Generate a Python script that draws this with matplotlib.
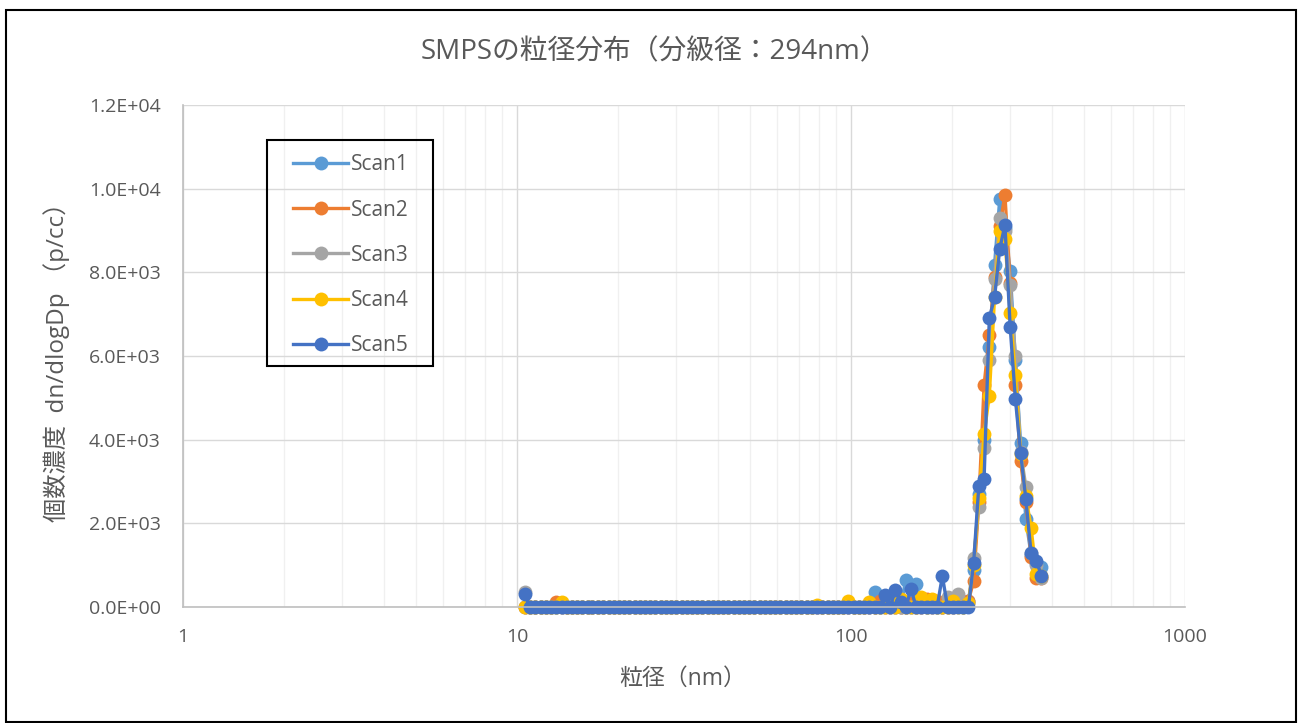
import numpy as np
import matplotlib
matplotlib.use("Agg")
import matplotlib.pyplot as plt
from matplotlib.patches import Rectangle
from matplotlib.ticker import FixedLocator, LogLocator, NullFormatter, FuncFormatter

plt.rcParams['font.family'] = ['Open Sans', 'Noto Sans CJK JP', 'DejaVu Sans']

# SMPS channel midpoints (nm), 64 ch/decade
diam = [10.6, 10.9, 11.3, 11.8, 12.2, 12.6, 13.1, 13.6, 14.1, 14.6,
        15.1, 15.7, 16.3, 16.8, 17.5, 18.1, 18.8, 19.5, 20.2, 20.9,
        21.7, 22.5, 23.3, 24.1, 25.0, 25.9, 26.9, 27.9, 28.9, 30.0,
        31.1, 32.2, 33.4, 34.6, 35.9, 37.2, 38.5, 40.0, 41.4, 42.9,
        44.5, 46.1, 47.8, 49.6, 51.4, 53.3, 55.2, 57.3, 59.4, 61.5,
        63.8, 66.1, 68.5, 71.0, 73.7, 76.4, 79.1, 82.0, 85.1, 88.2,
        91.4, 94.7, 98.2, 101.8, 105.5, 109.4, 113.4, 117.6, 121.9, 126.3,
        131.0, 135.8, 140.7, 145.9, 151.2, 156.8, 162.5, 168.5, 174.7, 181.1,
        187.7, 194.6, 201.7, 209.1, 216.7, 224.7, 232.9, 241.4, 250.3, 259.5,
        269.0, 278.8, 289.0, 299.6, 310.6, 322.0, 333.8, 346.0, 358.7, 371.8]

scan1 = [0, 0, 0, 0, 0, 0, 0, 0, 0, 0,
         0, 0, 0, 0, 0, 0, 0, 0, 0, 0,
         0, 0, 0, 0, 0, 0, 0, 0, 0, 0,
         0, 0, 0, 0, 0, 0, 0, 0, 0, 0,
         0, 0, 0, 0, 0, 0, 0, 0, 0, 0,
         0, 0, 0, 0, 0, 0, 0, 0, 0, 0,
         0, 0, 0, 0, 0, 0, 0, 360, 0, 200,
         0, 300, 0, 650, 0, 560, 0, 0, 100, 0,
         0, 50, 0, 100, 0, 150, 880, 2700, 4000, 6220,
         8180, 9750, 9050, 8040, 5900, 3910, 2100, 1250, 1050, 950]

scan2 = [0, 0, 0, 0, 0, 0, 130, 0, 0, 0,
         0, 0, 0, 0, 0, 0, 0, 0, 0, 0,
         0, 0, 0, 0, 0, 0, 0, 0, 0, 0,
         0, 0, 0, 0, 0, 0, 0, 0, 0, 0,
         0, 0, 0, 0, 0, 0, 0, 0, 0, 0,
         0, 0, 0, 0, 0, 0, 0, 0, 0, 0,
         0, 0, 0, 0, 0, 0, 0, 0, 150, 0,
         0, 0, 0, 0, 100, 0, 0, 200, 0, 150,
         0, 0, 0, 250, 100, 150, 620, 2500, 5300, 6500,
         7900, 9100, 9850, 7750, 5300, 3480, 2500, 1200, 700, 700]

scan3 = [350, 0, 0, 0, 0, 0, 0, 0, 0, 0,
         0, 0, 0, 0, 0, 0, 0, 0, 0, 0,
         0, 0, 0, 0, 0, 0, 0, 0, 0, 0,
         0, 0, 0, 0, 0, 0, 0, 0, 0, 0,
         0, 0, 0, 0, 0, 0, 0, 0, 0, 0,
         0, 0, 0, 0, 0, 0, 0, 0, 0, 0,
         0, 0, 0, 0, 0, 0, 0, 0, 0, 0,
         150, 0, 0, 0, 0, 0, 200, 0, 0, 0,
         0, 250, 0, 300, 0, 100, 1170, 2400, 3800, 5900,
         7830, 9300, 9000, 7700, 6000, 3700, 2880, 1300, 1000, 700]

scan4 = [0, 0, 0, 0, 0, 0, 0, 130, 0, 0,
         0, 0, 0, 0, 0, 0, 0, 0, 0, 0,
         0, 0, 0, 0, 0, 0, 0, 0, 0, 0,
         0, 0, 0, 0, 0, 0, 0, 0, 0, 0,
         0, 0, 0, 0, 0, 0, 0, 0, 0, 0,
         0, 0, 0, 0, 0, 0, 50, 0, 0, 0,
         0, 0, 140, 0, 0, 0, 120, 0, 0, 0,
         250, 0, 200, 0, 0, 0, 250, 0, 200, 0,
         0, 0, 150, 0, 0, 100, 1000, 2600, 4130, 5050,
         7400, 9000, 8800, 7030, 5550, 3650, 2650, 1900, 800, 750]

scan5 = [300, 0, 0, 0, 0, 0, 0, 0, 0, 0,
         0, 0, 0, 0, 0, 0, 0, 0, 0, 0,
         0, 0, 0, 0, 0, 0, 0, 0, 0, 0,
         0, 0, 0, 0, 0, 0, 0, 0, 0, 0,
         0, 0, 0, 0, 0, 0, 0, 0, 0, 0,
         0, 0, 0, 0, 0, 0, 0, 0, 0, 0,
         0, 0, 0, 0, 0, 0, 0, 0, 0, 290,
         0, 400, 120, 0, 420, 0, 0, 0, 0, 0,
         740, 0, 0, 0, 0, 0, 1050, 2900, 3050, 6900,
         7400, 8560, 9130, 6700, 4970, 3680, 2580, 1290, 1100, 750]

nombres = ["Scan1", "Scan2", "Scan3", "Scan4", "Scan5"]
colores = ["#5B9BD5", "#ED7D31", "#A5A5A5", "#FFC000", "#4472C4"]
series = [scan1, scan2, scan3, scan4, scan5]


def fmt_e(v, pos):
    if v <= 0:
        return "0.0E+00"
    e = int(np.floor(np.log10(v)))
    return "%.1fE+%02d" % (v / 10 ** e, e)


W, H = 1301, 723
fig = plt.figure(figsize=(W / 100, H / 100), dpi=100)
ax = fig.add_axes([183 / W, 1 - 607 / H, 1002 / W, 502 / H])

for nombre, col, datos in zip(nombres, colores, series):
    ax.plot(diam, datos, color=col, lw=2.4, marker='o', ms=10,
            markeredgewidth=0, label=nombre, clip_on=False)

ax.set_xscale('log')
ax.set_xlim(1, 1000)
ax.set_ylim(0, 12000)
ax.set_yticks(np.arange(0, 12001, 2000))
ax.yaxis.set_major_formatter(FuncFormatter(fmt_e))
ax.xaxis.set_major_locator(FixedLocator([1, 10, 100, 1000]))
ax.xaxis.set_major_formatter(FuncFormatter(lambda v, p: "%d" % v))
ax.xaxis.set_minor_locator(LogLocator(base=10, subs=np.arange(2, 10)))
ax.xaxis.set_minor_formatter(NullFormatter())

ax.grid(True, which='major', color='#D9D9D9', lw=1)
ax.grid(True, which='minor', axis='x', color='#F0F0F0', lw=1)
ax.set_axisbelow(True)
for s in ['top', 'right']:
    ax.spines[s].set_visible(False)
for s in ['left', 'bottom']:
    ax.spines[s].set_color('#BFBFBF')
    ax.spines[s].set_linewidth(1.2)
ax.tick_params(which='both', length=0, labelsize=14, colors='#595959')
ax.tick_params(axis='y', pad=16)
ax.tick_params(axis='x', pad=15)

ax.set_xlabel("粒径（nm）", fontsize=16.5, color='#595959')
ax.set_ylabel("個数濃度  dn/dlogDp （p/cc）", fontsize=17.5, color='#595959')
ax.xaxis.set_label_coords(0.499, -0.12)
ax.yaxis.set_label_coords(-0.113, 0.5)
fig.text(0.503, 0.928, "SMPSの粒径分布（分級径：294nm）", ha='center', va='center',
         fontsize=20, color='#595959')

# leyenda sin marco propio; el recuadro se dibuja aparte
leg = fig.legend(loc='upper left', bbox_to_anchor=(283 / W, 1 - 144 / H), fontsize=15,
                 frameon=False, labelspacing=1.16, handlelength=2.6,
                 handletextpad=0.15, borderpad=0.5, borderaxespad=0)
for t in leg.get_texts():
    t.set_color('#595959')
fig.patches.append(Rectangle((267 / W, 1 - 366 / H), 166 / W, 226 / H,
                             transform=fig.transFigure, fill=False,
                             edgecolor='black', lw=1.5, zorder=5))

# marco exterior
fig.patches.append(Rectangle((6 / W, 1 - 722 / H), 1290 / W, 712 / H,
                             transform=fig.transFigure, fill=False,
                             edgecolor='black', lw=1.5))

fig.savefig("out.png", dpi=100)
